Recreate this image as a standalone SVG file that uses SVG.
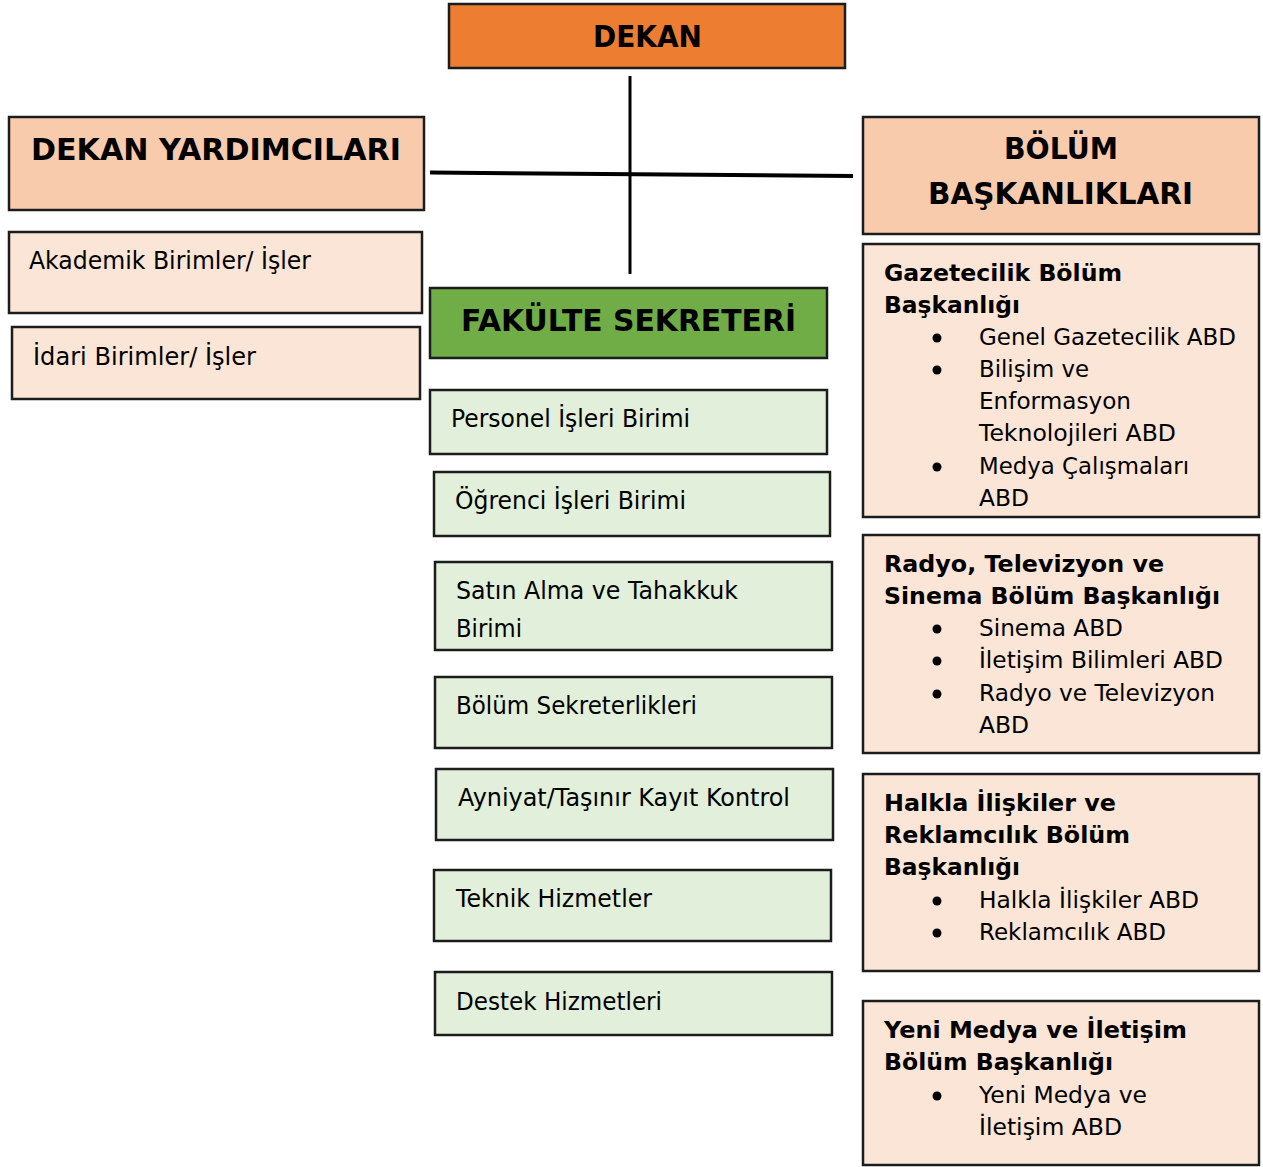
<svg xmlns="http://www.w3.org/2000/svg" width="1263" height="1167" viewBox="0 0 1263 1167">
<style>
rect{stroke:#1c1c1c;stroke-width:2.5}
.or{fill:#ED7D31}.pk{fill:#F8CBAD}.lp{fill:#FBE5D6}.gr{fill:#70AD47}.lg{fill:#E2EFDA}
text{font-family:"DejaVu Sans",Verdana,sans-serif;fill:#000}
.h{font-weight:bold;font-size:30px}
.t{font-size:24px}
.r{font-size:23px}
.b{font-weight:bold;font-size:23px}
.conn line{stroke:#000}
</style>
<g class="conn" id="connectors">
<line x1="630" y1="76" x2="630" y2="274" stroke-width="3"/>
<line x1="430" y1="172.5" x2="853" y2="176" stroke-width="4"/>
</g>
<g id="dekan"><rect class="or" x="449" y="4" width="396" height="64"/><text class="h" x="593" y="47" font-size="32" textLength="109" lengthAdjust="spacingAndGlyphs">DEKAN</text></g>
<g id="dekan-yardimcilari"><rect class="pk" x="9" y="117" width="415" height="93"/><text class="h" x="31" y="160" textLength="370" lengthAdjust="spacingAndGlyphs">DEKAN YARDIMCILARI</text></g>
<g id="bolum-baskanliklari"><rect class="pk" x="863" y="117" width="396" height="117"/><text class="h" x="1004" y="159" textLength="114" lengthAdjust="spacingAndGlyphs">BÖLÜM</text><text class="h" x="928" y="204" textLength="265" lengthAdjust="spacingAndGlyphs">BAŞKANLIKLARI</text></g>
<g id="akademik"><rect class="lp" x="9" y="232" width="413" height="81"/><text class="t" x="29" y="269" textLength="282" lengthAdjust="spacingAndGlyphs">Akademik Birimler/ İşler</text></g>
<g id="idari"><rect class="lp" x="12" y="327" width="408" height="72"/><text class="t" x="33" y="365" textLength="223" lengthAdjust="spacingAndGlyphs">İdari Birimler/ İşler</text></g>
<g id="fakulte-sekreteri"><rect class="gr" x="430" y="288" width="397" height="70"/><text class="h" x="461" y="331" textLength="335" lengthAdjust="spacingAndGlyphs">FAKÜLTE SEKRETERİ</text></g>
<g id="personel"><rect class="lg" x="430" y="390" width="397" height="64"/><text class="t" x="451" y="427" textLength="239" lengthAdjust="spacingAndGlyphs">Personel İşleri Birimi</text></g>
<g id="ogrenci"><rect class="lg" x="434" y="472" width="396" height="64"/><text class="t" x="455" y="509" textLength="231" lengthAdjust="spacingAndGlyphs">Öğrenci İşleri Birimi</text></g>
<g id="satin-alma"><rect class="lg" x="435" y="562" width="397" height="88"/><text class="t" x="456" y="599" textLength="282" lengthAdjust="spacingAndGlyphs">Satın Alma ve Tahakkuk</text><text class="t" x="456" y="637" textLength="66" lengthAdjust="spacingAndGlyphs">Birimi</text></g>
<g id="bolum-sekreterlikleri"><rect class="lg" x="435" y="677" width="397" height="71"/><text class="t" x="456" y="714" textLength="241" lengthAdjust="spacingAndGlyphs">Bölüm Sekreterlikleri</text></g>
<g id="ayniyat"><rect class="lg" x="436" y="769" width="397" height="71"/><text class="t" x="458" y="806" textLength="332" lengthAdjust="spacingAndGlyphs">Ayniyat/Taşınır Kayıt Kontrol</text></g>
<g id="teknik"><rect class="lg" x="434" y="870" width="397" height="71"/><text class="t" x="456" y="907" textLength="196" lengthAdjust="spacingAndGlyphs">Teknik Hizmetler</text></g>
<g id="destek"><rect class="lg" x="435" y="972" width="397" height="63"/><text class="t" x="456" y="1010" textLength="206" lengthAdjust="spacingAndGlyphs">Destek Hizmetleri</text></g>
<g id="gazetecilik"><rect class="lp" x="863" y="244" width="396" height="273"/>
<text class="b" x="884" y="281" textLength="238" lengthAdjust="spacingAndGlyphs">Gazetecilik Bölüm</text>
<text class="b" x="884" y="313" textLength="136" lengthAdjust="spacingAndGlyphs">Başkanlığı</text>
<circle cx="937" cy="338" r="4.5"/><text class="r" x="979" y="345" textLength="257" lengthAdjust="spacingAndGlyphs">Genel Gazetecilik ABD</text>
<circle cx="937" cy="370" r="4.5"/><text class="r" x="979" y="377" textLength="110" lengthAdjust="spacingAndGlyphs">Bilişim ve</text>
<text class="r" x="979" y="409" textLength="152" lengthAdjust="spacingAndGlyphs">Enformasyon</text>
<text class="r" x="979" y="441" textLength="197" lengthAdjust="spacingAndGlyphs">Teknolojileri ABD</text>
<circle cx="937" cy="467" r="4.5"/><text class="r" x="979" y="474" textLength="210" lengthAdjust="spacingAndGlyphs">Medya Çalışmaları</text>
<text class="r" x="979" y="506" textLength="50" lengthAdjust="spacingAndGlyphs">ABD</text></g>
<g id="radyo"><rect class="lp" x="863" y="535" width="396" height="218"/>
<text class="b" x="884" y="572" textLength="280" lengthAdjust="spacingAndGlyphs">Radyo, Televizyon ve</text>
<text class="b" x="884" y="604" textLength="336" lengthAdjust="spacingAndGlyphs">Sinema Bölüm Başkanlığı</text>
<circle cx="937" cy="629" r="4.5"/><text class="r" x="979" y="636" textLength="144" lengthAdjust="spacingAndGlyphs">Sinema ABD</text>
<circle cx="937" cy="661" r="4.5"/><text class="r" x="979" y="668" textLength="244" lengthAdjust="spacingAndGlyphs">İletişim Bilimleri ABD</text>
<circle cx="937" cy="694" r="4.5"/><text class="r" x="979" y="701" textLength="236" lengthAdjust="spacingAndGlyphs">Radyo ve Televizyon</text>
<text class="r" x="979" y="733" textLength="50" lengthAdjust="spacingAndGlyphs">ABD</text></g>
<g id="halkla"><rect class="lp" x="863" y="774" width="396" height="197"/>
<text class="b" x="884" y="811" textLength="232" lengthAdjust="spacingAndGlyphs">Halkla İlişkiler ve</text>
<text class="b" x="884" y="843" textLength="246" lengthAdjust="spacingAndGlyphs">Reklamcılık Bölüm</text>
<text class="b" x="884" y="875" textLength="136" lengthAdjust="spacingAndGlyphs">Başkanlığı</text>
<circle cx="937" cy="901" r="4.5"/><text class="r" x="979" y="908" textLength="220" lengthAdjust="spacingAndGlyphs">Halkla İlişkiler ABD</text>
<circle cx="937" cy="933" r="4.5"/><text class="r" x="979" y="940" textLength="187" lengthAdjust="spacingAndGlyphs">Reklamcılık ABD</text></g>
<g id="yeni-medya"><rect class="lp" x="863" y="1001" width="396" height="164"/>
<text class="b" x="884" y="1038" textLength="303" lengthAdjust="spacingAndGlyphs">Yeni Medya ve İletişim</text>
<text class="b" x="884" y="1070" textLength="229" lengthAdjust="spacingAndGlyphs">Bölüm Başkanlığı</text>
<circle cx="937" cy="1096" r="4.5"/><text class="r" x="979" y="1103" textLength="168" lengthAdjust="spacingAndGlyphs">Yeni Medya ve</text>
<text class="r" x="979" y="1135" textLength="143" lengthAdjust="spacingAndGlyphs">İletişim ABD</text></g>
</svg>
